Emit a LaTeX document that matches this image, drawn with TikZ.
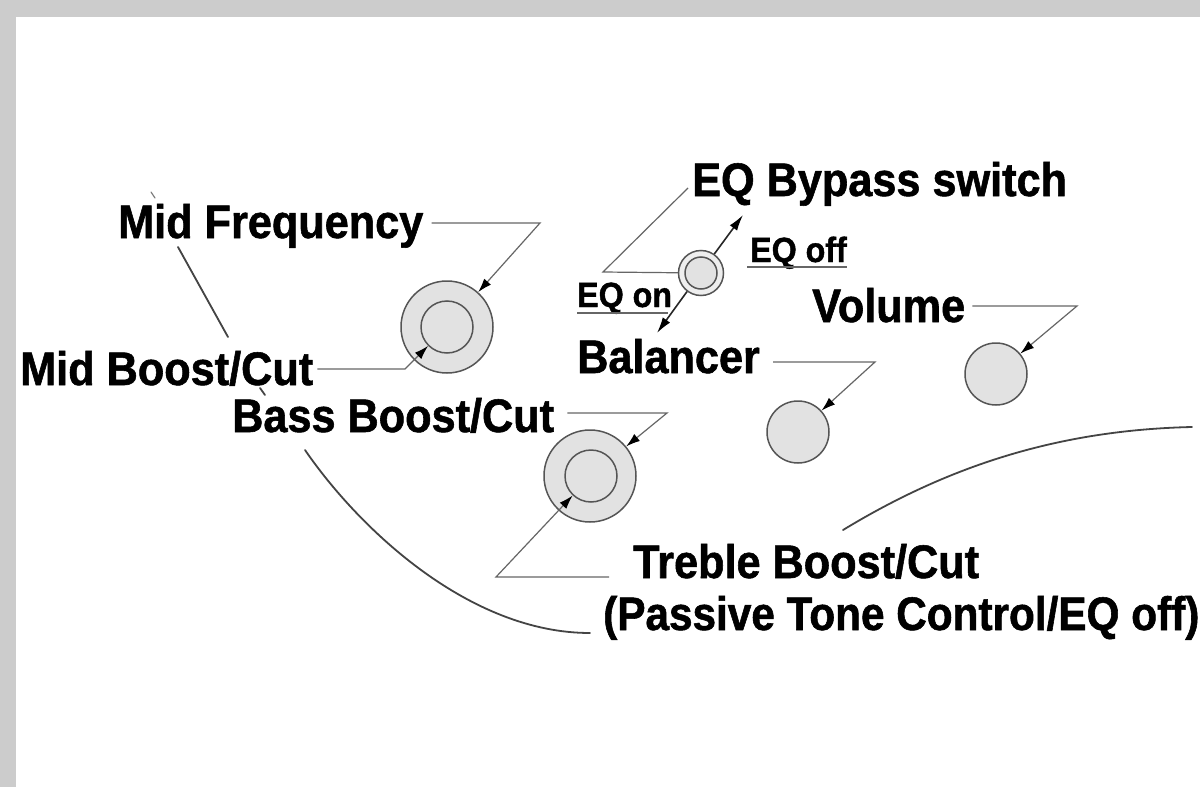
\documentclass[tikz,border=0pt]{standalone}
\usepackage{fontspec}
\setmainfont{Liberation Sans}[FakeStretch=0.92,BoldFeatures={FakeBold=1.2}]
\newfontfamily\narrowfont{Liberation Sans}[FakeStretch=0.90,BoldFeatures={FakeBold=1.2}]
\usetikzlibrary{arrows.meta,calc}
\definecolor{frame}{HTML}{CCCCCC}
\definecolor{knobfill}{HTML}{E2E2E2}
\definecolor{knobline}{HTML}{555555}
\definecolor{leadc}{HTML}{666666}
\definecolor{bodyc}{HTML}{444444}
\tikzset{
  lbl/.style={anchor=base west, inner sep=0pt, font=\fontsize{47}{50}\selectfont\bfseries},
  smalllbl/.style={anchor=base west, inner sep=0pt, font=\fontsize{35}{38}\selectfont\bfseries},
  knob/.style={circle, inner sep=0pt, fill=knobfill, draw=knobline, line width=1.5pt},
  leader/.style={draw=leadc, line width=1.2pt},
  ptr/.style={leader, -{Latex[length=14pt,width=9pt,color=black]}},
  swarrow/.style={draw=black!85, line width=1.6pt, -{Latex[length=16pt,width=9pt,color=black]}},
  bodyline/.style={draw=bodyc, line width=1.8pt, line cap=round},
}
\begin{document}
\begin{tikzpicture}[x=1pt,y=-1pt]
\useasboundingbox (0,0) rectangle (1200,787);
\fill[white] (0,0) rectangle (1200,787);
\fill[frame] (0,0) rectangle (1200,17);
\fill[frame] (0,0) rectangle (16,787);

% body outline pieces
\draw[bodyline, line width=1.2pt, bodyc!70] (151,192) -- (155,198);
\draw[bodyline] (178,247) -- (228,337);
\draw[bodyline] (260,388) -- (265,395);
\draw[bodyline] (305,450) .. controls (360,530) and (470,633) .. (590,633);
\draw[bodyline] (843,530) .. controls (950,465) and (1060,430) .. (1192,427);

% knobs
\node[knob, minimum size=92pt] (midk) at (447,327) {};
\node[knob, minimum size=52pt] (midki) at (447,327) {};
\node[knob, minimum size=92pt] (bassk) at (590,476) {};
\node[knob, minimum size=52pt] (trebk) at (591,476) {};
\node[knob, minimum size=62pt] (balk) at (798,432) {};
\node[knob, minimum size=62pt] (volk) at (996,374) {};
\node[knob, minimum size=45pt, fill=knobfill!60] (sw) at (701,273) {};
\node[knob, minimum size=32pt] (swi) at (701,273) {};

% labels
\node[lbl] (mf) at (118,238) {Mid Frequency};
\node[lbl] (mbc) at (20,385) {Mid Boost/Cut};
\node[lbl] (bbc) at (232,432) {Bass Boost/Cut};
\node[lbl] (eqb) at (692,196) {EQ Bypass switch};
\node[smalllbl] (eqoff) at (750,262) {EQ off};
\node[smalllbl] (eqon) at (577,307) {EQ on};
\node[lbl] (vol) at (812,322) {Volume};
\node[lbl] (bal) at (577,373) {Balancer};
\node[lbl] (treb) at (633,578) {Treble Boost/Cut};
\node[lbl, font=\fontsize{47}{50}\selectfont\narrowfont\bfseries] (pas) at (603,630) {(Passive Tone Control/EQ off)};

% leader corners
\coordinate (mfc) at (540,223);
\coordinate (mbcc) at (405,369);
\coordinate (bbcc) at (667,413);
\coordinate (volc) at (1077,306);
\coordinate (balc) at (875,362);
\coordinate (eqbc) at (603,272);
\coordinate (trebc) at (496,577);

% leaders
\draw[ptr] ($(mf.base east)+(8,-15)$) -- (mfc) -- (midk);
\draw[ptr] ($(mbc.base east)+(4,-16)$) -- (mbcc) -- (midki);
\draw[ptr] ($(bbc.base east)+(13,-19)$) -- (bbcc) -- (bassk);
\draw[ptr] ($(vol.base east)+(7,-16)$) -- (volc) -- (volk);
\draw[ptr] ($(bal.base east)+(13,-11)$) -- (balc) -- (balk);
\draw[leader] ($(eqb.base west)+(-4,-8)$) -- (eqbc) -- (sw);
\draw[ptr] ($(treb.base west)+(-24,-1)$) -- (trebc) -- (trebk);

% underlines
\draw[leader] ($(eqoff.base west)+(-3,5)$) -- ($(eqoff.base east)+(0,5)$);
\draw[leader] ($(eqon.base west)+(0,6)$) -- ($(eqon.base east)+(-4,6)$);

% switch arrows
\coordinate (swup) at ($(sw)+(42,-58)$);
\coordinate (swdn) at ($(sw)+(-44,60)$);
\draw[swarrow] (sw.55) -- (swup);
\draw[swarrow] (sw.233) -- (swdn);
\end{tikzpicture}
\end{document}
